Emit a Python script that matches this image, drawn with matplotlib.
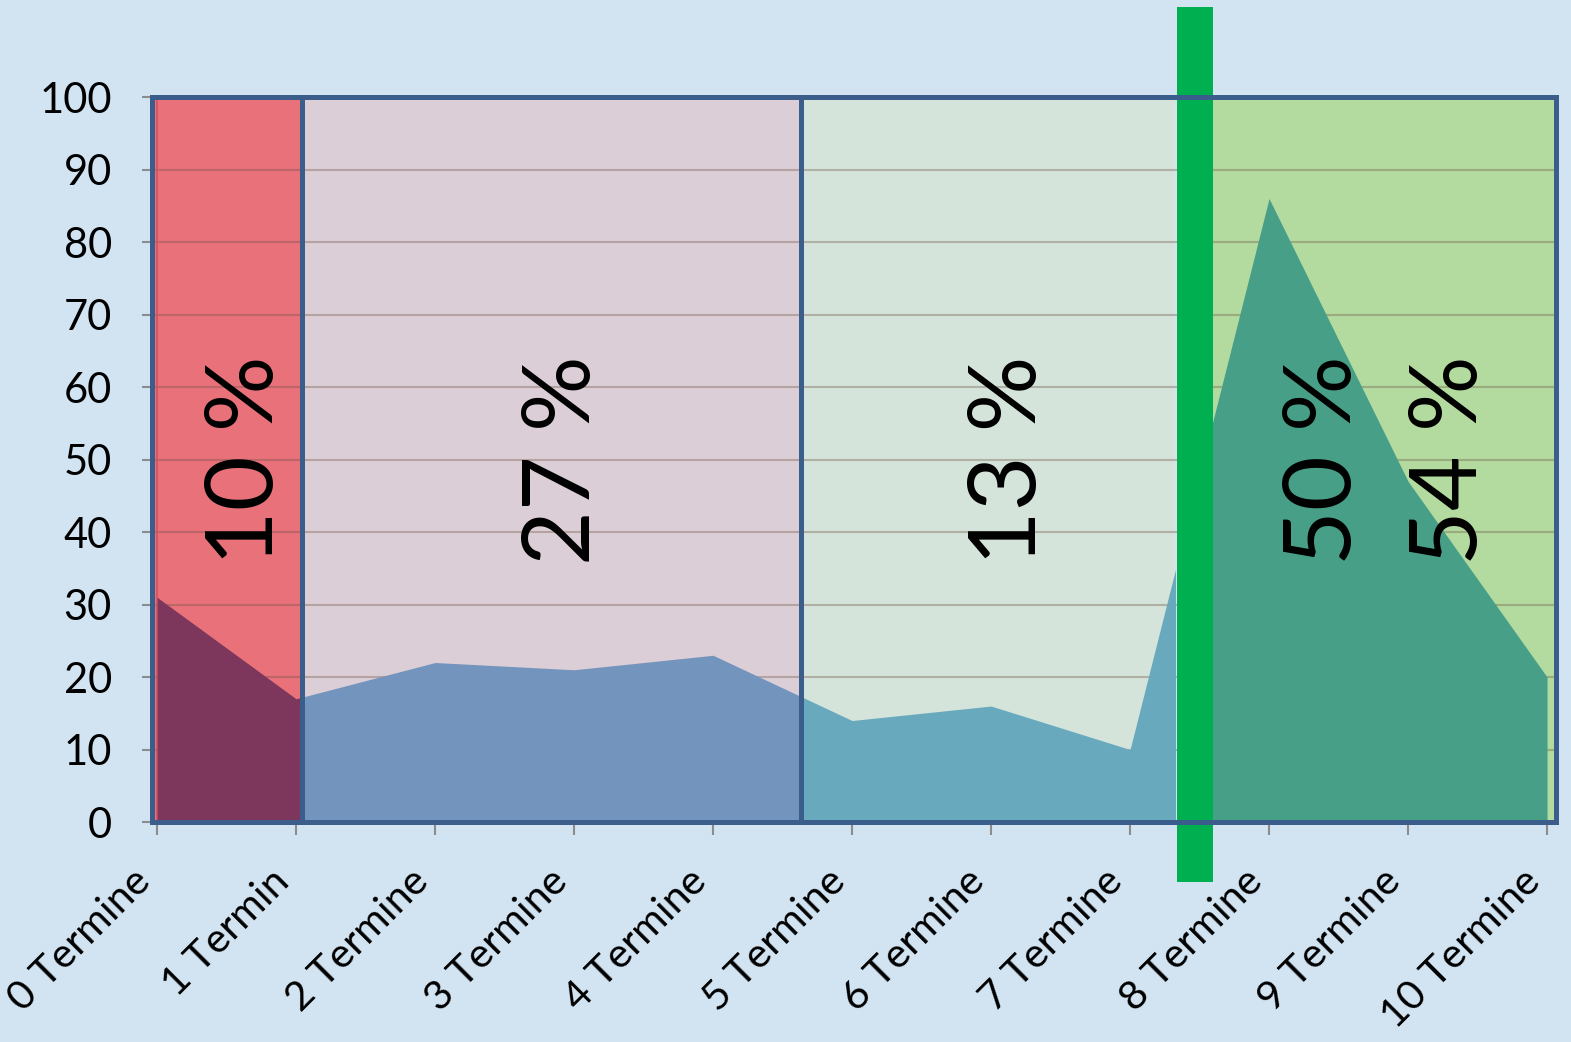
import matplotlib.pyplot as plt
from matplotlib.patches import Rectangle

# data
categories = ["0 Termine", "1 Termin", "2 Termine", "3 Termine", "4 Termine", "5 Termine",
              "6 Termine", "7 Termine", "8 Termine", "9 Termine", "10 Termine"]
values = [31, 17, 22, 21, 23, 14, 16, 10, 86, 47, 20]
share_labels = ["10 %", "27 %", "13 %", "50 %", "54 %"]

# layout of the shaded bands (in category units)
XMIN, XMAX = -0.036, 10.065
bands = [
    # x0, x1, background, area colour
    (XMIN, 1.043, "#E8717A", "#7E375C"),
    (1.043, 4.633, "#DBCED6", "#7394BC"),
    (4.633, 7.324, "#D4E4DA", "#69A9BE"),
    (7.590, XMAX, "#B3DA9F", "#489F87"),
]
band_green = (7.335, 7.600)
label_x = [0.65, 2.93, 6.135, 8.40, 9.307]

plt.rcParams["font.family"] = ["Lato", "DejaVu Sans"]
BG = "#D2E4F2"
FRAME = "#3B5D8B"

fig = plt.figure(figsize=(15.71, 10.42), dpi=100, facecolor=BG)
ax = fig.add_axes([0.0968, 0.2111, 0.8937, 0.6958])
ax.set_facecolor(BG)

x = list(range(len(values)))
for x0, x1, bg, col in bands:
    ax.axvspan(x0, x1, color=bg, lw=0, zorder=0.5)
    area = ax.fill_between(x, values, 0, color=col, lw=0, zorder=2)
    clip = Rectangle((x0, 0), x1 - x0, 1, transform=ax.get_xaxis_transform())
    area.set_clip_path(clip)

# thin red edge at the left of the red band
ax.axvline(0, color="#D9505C", lw=1.2, zorder=1.5)

# horizontal gridlines
for yv in range(10, 101, 10):
    ax.axhline(yv, color="#6E5444", alpha=0.35, lw=1.5, zorder=1)

# dividers
for xv in (bands[0][1], bands[1][1]):
    ax.axvline(xv, color=FRAME, lw=3.6, zorder=3)

# green marker bar reaching beyond the axes
ax.axvspan(band_green[0], band_green[1], ymin=-0.083, ymax=1.124,
           color="#00B050", lw=0, zorder=4, clip_on=False)

for lx, txt in zip(label_x, share_labels):
    ax.text(lx, 35.4, txt, rotation=90, rotation_mode="anchor",
            ha="left", va="center", fontsize=68, color="black", zorder=5)

ax.set_xlim(XMIN, XMAX)
ax.set_ylim(0, 100)
ax.set_yticks(range(0, 101, 10))
ax.set_xticks(x)
ax.set_xticklabels(categories, rotation=45, ha="right", rotation_mode="default")
ax.tick_params(axis="y", length=7, width=1.5, color="#8C8C8C", pad=22, labelsize=30)
ax.tick_params(axis="x", length=9, width=1.5, color="#8C8C8C", pad=20, labelsize=29.5)

for s in ax.spines.values():
    s.set_color(FRAME)
    s.set_linewidth(3.6)
    s.set_zorder(6)

fig.savefig("out.png", dpi=100, facecolor=BG)
